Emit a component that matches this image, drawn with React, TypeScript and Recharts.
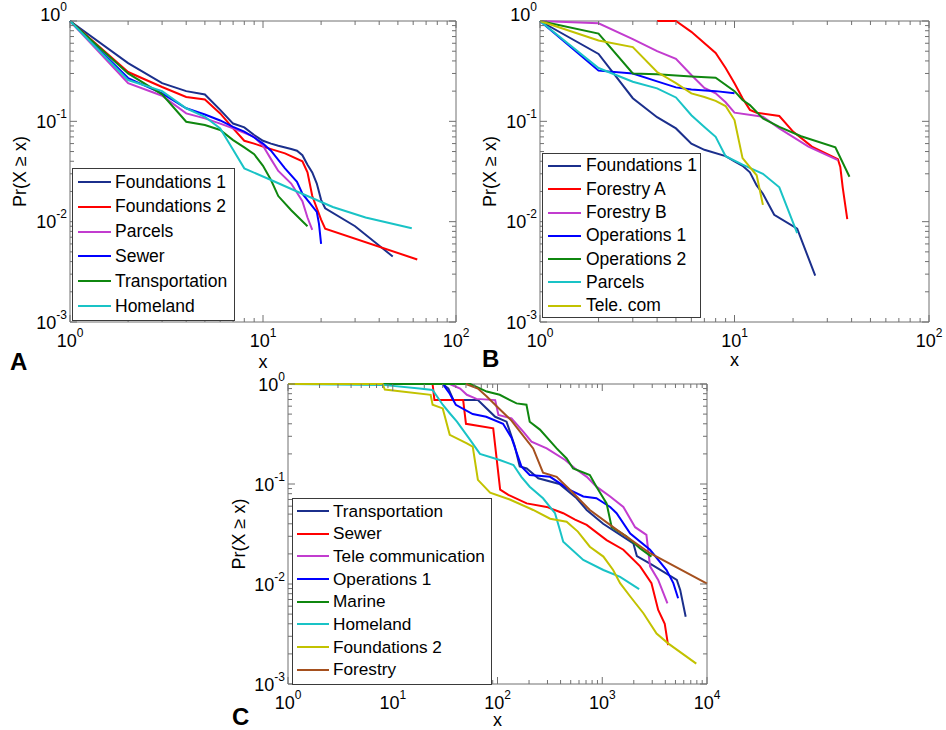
import React from "react";
import { LineChart, Line, XAxis, YAxis, ReferenceArea, Legend } from "recharts";

type Pt = [number, number];

// ---- panel A: complementary CDFs, x = 1..100 ----
const aFoundations1: Pt[] = [[1, 1], [2, 0.38], [3, 0.24], [4, 0.2], [5, 0.185], [6, 0.13], [7, 0.095], [8, 0.087], [9, 0.073], [10, 0.064], [11, 0.06], [12, 0.057], [14, 0.053], [15, 0.051], [16, 0.046], [17, 0.037], [18, 0.031], [19, 0.024], [20, 0.0165], [21, 0.0136], [30, 0.009], [47, 0.0045]];
const aFoundations2: Pt[] = [[1, 1], [2, 0.31], [3, 0.22], [4, 0.175], [5, 0.165], [6, 0.12], [7, 0.085], [8, 0.064], [9, 0.06], [10, 0.056], [13, 0.048], [16, 0.04], [17, 0.031], [18, 0.018], [20, 0.0105], [21, 0.0085], [63, 0.0042]];
const aParcels: Pt[] = [[1, 1], [2, 0.24], [3, 0.18], [4, 0.12], [5, 0.107], [6, 0.095], [7, 0.085], [8, 0.077], [9, 0.07], [10, 0.057], [11, 0.042], [12, 0.032], [14, 0.024], [16, 0.016], [17, 0.011], [18, 0.0083]];
const aSewer: Pt[] = [[1, 1], [2, 0.27], [3, 0.19], [4, 0.135], [5, 0.117], [6, 0.102], [7, 0.088], [8, 0.079], [9, 0.069], [10, 0.06], [11, 0.051], [13, 0.034], [15, 0.025], [16, 0.019], [19, 0.0125], [19.5, 0.0095], [20, 0.006]];
const aTransportation: Pt[] = [[1, 1], [2, 0.3], [3, 0.186], [4, 0.099], [5, 0.092], [6, 0.082], [7, 0.065], [8, 0.055], [9, 0.047], [10, 0.036], [11, 0.026], [12, 0.018], [14, 0.013], [17, 0.009]];
const aHomeland: Pt[] = [[1, 1], [2, 0.258], [3, 0.2], [4, 0.135], [5, 0.111], [6, 0.085], [7, 0.052], [8, 0.034], [11, 0.026], [15, 0.02], [23, 0.014], [34, 0.011], [59, 0.0086]];

// ---- panel B ----
const bFoundations1: Pt[] = [[1, 1], [2, 0.47], [3, 0.17], [4, 0.11], [5, 0.085], [6, 0.06], [7, 0.052], [9, 0.045], [10, 0.04], [11, 0.036], [12, 0.031], [13, 0.023], [14, 0.019], [16, 0.0117], [21, 0.0085], [26, 0.0029]];
const bForestryA: Pt[] = [[4, 1], [5, 1], [6, 0.78], [8, 0.48], [9, 0.34], [10, 0.24], [11, 0.17], [12, 0.13], [13, 0.122], [17, 0.113], [20, 0.079], [25, 0.056], [34, 0.042], [35, 0.035], [36, 0.022], [38, 0.0106]];
const bForestryB: Pt[] = [[1, 1], [2, 0.95], [3, 0.66], [4, 0.5], [5, 0.42], [6, 0.29], [7, 0.215], [8, 0.19], [9, 0.155], [10, 0.122], [14, 0.111], [17, 0.085], [24, 0.056], [34, 0.041]];
const bOperations1: Pt[] = [[1, 1], [2, 0.32], [3, 0.3], [4, 0.25], [5, 0.218], [6, 0.208], [8, 0.2], [10, 0.19]];
const bOperations2: Pt[] = [[1, 1], [2, 0.75], [3, 0.3], [4, 0.295], [6, 0.28], [8, 0.272], [10, 0.2], [11, 0.163], [12, 0.145], [14, 0.107], [17, 0.088], [22, 0.071], [33, 0.055], [39, 0.028]];
const bParcels: Pt[] = [[1, 1], [2, 0.34], [3, 0.248], [4, 0.213], [5, 0.173], [6, 0.115], [7, 0.088], [8, 0.07], [9, 0.045], [11, 0.037], [14, 0.03], [17, 0.022], [21, 0.0077]];
const bTelecom: Pt[] = [[1, 1], [2, 0.64], [3, 0.55], [4, 0.31], [5, 0.24], [6, 0.19], [7, 0.175], [8, 0.16], [9, 0.142], [10, 0.103], [11, 0.043], [12, 0.035], [13, 0.029], [14, 0.0147]];

// ---- panel C: x = 1..10^4 ----
const cTransportation: Pt[] = [[1, 1], [30, 1], [34, 0.9], [38, 0.69], [65, 0.69], [95, 0.47], [122, 0.42], [146, 0.24], [163, 0.15], [190, 0.143], [245, 0.114], [390, 0.1], [570, 0.072], [710, 0.055], [1020, 0.04], [1980, 0.0255], [2140, 0.019], [2860, 0.016], [5150, 0.011], [5550, 0.0087], [6260, 0.0047]];
const cSewer: Pt[] = [[1, 1], [24, 1], [25, 0.69], [47, 0.69], [50, 0.4], [91, 0.36], [106, 0.088], [127, 0.078], [190, 0.064], [295, 0.059], [424, 0.051], [550, 0.044], [710, 0.039], [1100, 0.0275], [1590, 0.022], [2300, 0.015], [2950, 0.0102], [3420, 0.0055], [3950, 0.004], [4250, 0.00245]];
const cTelecom: Pt[] = [[1, 1], [35, 1], [44, 0.9], [51, 0.78], [63, 0.71], [95, 0.69], [102, 0.49], [136, 0.454], [176, 0.334], [211, 0.265], [295, 0.227], [443, 0.174], [550, 0.143], [712, 0.118], [880, 0.094], [1190, 0.075], [1590, 0.059], [2060, 0.037], [2640, 0.031], [2860, 0.015], [3420, 0.011], [4190, 0.0064]];
const cOperations1: Pt[] = [[1, 1], [30, 1], [35, 0.8], [40, 0.62], [58, 0.5], [78, 0.47], [113, 0.4], [136, 0.29], [169, 0.15], [203, 0.123], [318, 0.118], [494, 0.087], [659, 0.075], [880, 0.072], [1190, 0.059], [1370, 0.051], [1850, 0.032], [2860, 0.022], [4110, 0.0138], [4770, 0.0102], [5300, 0.0072]];
const cMarine: Pt[] = [[1, 1], [55, 1], [79, 0.84], [105, 0.78], [152, 0.64], [189, 0.62], [203, 0.42], [254, 0.35], [367, 0.227], [457, 0.18], [527, 0.143], [761, 0.123], [880, 0.094], [1100, 0.064], [1230, 0.037], [1700, 0.03], [2300, 0.0227], [2950, 0.0188]];
const cHomeland: Pt[] = [[1, 1], [8, 0.98], [18, 0.9], [24, 0.87], [30, 0.62], [35, 0.51], [41, 0.42], [55, 0.275], [68, 0.2], [105, 0.174], [142, 0.155], [169, 0.118], [203, 0.094], [272, 0.072], [354, 0.051], [393, 0.035], [424, 0.0265], [659, 0.0174], [1025, 0.0138], [1480, 0.0118], [2250, 0.0089]];
const cFoundations2: Pt[] = [[1, 1], [8, 1], [8.4, 0.88], [23, 0.78], [24, 0.62], [30, 0.57], [35, 0.31], [51, 0.255], [58, 0.236], [65, 0.11], [85, 0.082], [131, 0.07], [219, 0.055], [318, 0.045], [457, 0.042], [585, 0.0334], [761, 0.0236], [1025, 0.0188], [1270, 0.0138], [1480, 0.0102], [1850, 0.0075], [2470, 0.0051], [3300, 0.0032], [4250, 0.00255], [7900, 0.0016]];
const cForestry: Pt[] = [[50, 1], [65, 0.9], [79, 0.75], [105, 0.56], [136, 0.43], [169, 0.32], [219, 0.227], [272, 0.13], [367, 0.118], [494, 0.087], [761, 0.055], [1370, 0.035], [2860, 0.0203], [10000, 0.0101]];

// axis ticks
const Y_DOMAIN: [number, number] = [0.001, 1];
const yMajor = [0.001, 0.01, 0.1, 1];
const xMajorAB = [1, 10, 100];
const xMajorC = [1, 10, 100, 1000, 10000];

const minorTicks = (lo: number, hi: number): number[] => {
  const out: number[] = [];
  for (let e = lo; e < hi; e++) {
    for (let m = 2; m <= 9; m++) out.push(+(m * Math.pow(10, e)).toPrecision(6));
  }
  return out;
};

const FONT = '"Liberation Sans", Arial, Helvetica, sans-serif';
const FRAME = "#707070";

const NAVY = "#1b2f8c";
const RED = "#ff0000";
const MAGENTA = "#c23ccf";
const BLUE = "#0000ff";
const GREEN = "#0f870f";
const CYAN = "#19c3c6";
const OLIVE = "#c2c200";
const BROWN = "#a5501e";

interface Series {
  name: string;
  color: string;
  pts: Pt[];
}

const seriesA: Series[] = [
  { name: "Foundations 1", color: NAVY, pts: aFoundations1 },
  { name: "Foundations 2", color: RED, pts: aFoundations2 },
  { name: "Parcels", color: MAGENTA, pts: aParcels },
  { name: "Sewer", color: BLUE, pts: aSewer },
  { name: "Transportation", color: GREEN, pts: aTransportation },
  { name: "Homeland", color: CYAN, pts: aHomeland },
];

const seriesB: Series[] = [
  { name: "Foundations 1", color: NAVY, pts: bFoundations1 },
  { name: "Forestry A", color: RED, pts: bForestryA },
  { name: "Forestry B", color: MAGENTA, pts: bForestryB },
  { name: "Operations 1", color: BLUE, pts: bOperations1 },
  { name: "Operations 2", color: GREEN, pts: bOperations2 },
  { name: "Parcels", color: CYAN, pts: bParcels },
  { name: "Tele. com", color: OLIVE, pts: bTelecom },
];

const seriesC: Series[] = [
  { name: "Transportation", color: NAVY, pts: cTransportation },
  { name: "Sewer", color: RED, pts: cSewer },
  { name: "Tele communication", color: MAGENTA, pts: cTelecom },
  { name: "Operations 1", color: BLUE, pts: cOperations1 },
  { name: "Marine", color: GREEN, pts: cMarine },
  { name: "Homeland", color: CYAN, pts: cHomeland },
  { name: "Foundations 2", color: OLIVE, pts: cFoundations2 },
  { name: "Forestry", color: BROWN, pts: cForestry },
];

interface LegendCfg {
  left: number;
  top: number;
  width: number;
  height: number;
  rowH: number;
  padTop: number;
  lineX: number;
  lineLen: number;
  textX: number;
  fontSize: number;
}

interface PanelCfg {
  left: number;
  top: number;
  width: number;
  height: number;
  margin: { top: number; right: number; left: number; bottom: number };
  yAxisW: number;
  xAxisH: number;
  xDomain: [number, number];
  xMajor: number[];
  xMinor: number[];
  letter: string;
  letterX: number;
  letterY: number;
  xLabelDy: number;
  yLabelDx: number;
  topShift: number;
  legend: LegendCfg;
  series: Series[];
}

// plot boxes: A 70..456 x 21..322, B 540..929 x 21..322, C 288..707 x 384..684
const panels: PanelCfg[] = [
  {
    left: 0, top: 0, width: 470, height: 380,
    margin: { top: 21, right: 14, left: 10, bottom: 28 },
    yAxisW: 60, xAxisH: 30,
    xDomain: [1, 100], xMajor: xMajorAB, xMinor: minorTicks(0, 2),
    letter: "A", letterX: 10, letterY: 370, xLabelDy: 46, yLabelDx: 16, topShift: 6.5,
    legend: { left: 72, top: 168, width: 163, height: 153, rowH: 24.8, padTop: 0.6, lineX: 5, lineLen: 33, textX: 42, fontSize: 17.5 },
    series: seriesA,
  },
  {
    left: 470, top: 0, width: 476, height: 380,
    margin: { top: 21, right: 17, left: 10, bottom: 28 },
    yAxisW: 60, xAxisH: 30,
    xDomain: [1, 100], xMajor: xMajorAB, xMinor: minorTicks(0, 2),
    letter: "B", letterX: 12, letterY: 367, xLabelDy: 44, yLabelDx: 16, topShift: 6.5,
    legend: { left: 72, top: 153, width: 159, height: 165, rowH: 23.3, padTop: 0.35, lineX: 5, lineLen: 33, textX: 43, fontSize: 17.5 },
    series: seriesB,
  },
  {
    left: 230, top: 345, width: 500, height: 385,
    margin: { top: 39, right: 23, left: 8, bottom: 16 },
    yAxisW: 50, xAxisH: 30,
    xDomain: [1, 10000], xMajor: xMajorC, xMinor: minorTicks(0, 4),
    letter: "C", letterX: 2, letterY: 380, xLabelDy: 42, yLabelDx: 7, topShift: 0,
    legend: { left: 62, top: 153, width: 200, height: 187, rowH: 22.7, padTop: 0.65, lineX: 4, lineLen: 32, textX: 40, fontSize: 17.2 },
    series: seriesC,
  },
];

const isMajor = (v: number) => {
  const l = Math.log10(v);
  return Math.abs(l - Math.round(l)) < 1e-6;
};

const PowLabel = ({ exp }: { exp: number }) => (
  <>
    10
    <tspan dy={-10} fontSize={12}>
      {exp}
    </tspan>
  </>
);

const XTick = (props: any) => {
  const { x, y, payload, ph } = props;
  const v = payload.value as number;
  const major = isMajor(v);
  const len = major ? 7 : 4;
  return (
    <g>
      <line x1={x} x2={x} y1={y} y2={y - len} stroke={FRAME} strokeWidth={1} />
      <line x1={x} x2={x} y1={y - ph} y2={y - ph + len} stroke={FRAME} strokeWidth={1} />
      {major && (
        <text x={x} y={y + 25} textAnchor="middle" fontFamily={FONT} fontSize={18} fill="#000">
          <PowLabel exp={Math.round(Math.log10(v))} />
        </text>
      )}
    </g>
  );
};

const YTick = (props: any) => {
  const { x, y, payload, pw, topShift } = props;
  const v = payload.value as number;
  const major = isMajor(v);
  const len = major ? 7 : 4;
  const exp = Math.round(Math.log10(v));
  return (
    <g>
      <line x1={x} x2={x + len} y1={y} y2={y} stroke={FRAME} strokeWidth={1} />
      <line x1={x + pw} x2={x + pw - len} y1={y} y2={y} stroke={FRAME} strokeWidth={1} />
      {major && (
        <text x={x - 3} y={y + 6.5 - (exp === 0 ? topShift : 0)} textAnchor="end" fontFamily={FONT} fontSize={18} fill="#000">
          <PowLabel exp={exp} />
        </text>
      )}
    </g>
  );
};

const LegendBox = ({ lg, series }: { lg: LegendCfg; series: Series[] }) => (
  <div
    style={{
      boxSizing: "border-box",
      width: lg.width,
      height: lg.height,
      border: "1px solid #3a3a3a",
      background: "#fff",
      paddingTop: lg.padTop,
      fontFamily: FONT,
      fontSize: lg.fontSize,
      color: "#000",
    }}
  >
    {series.map((s) => (
      <div key={s.name} style={{ position: "relative", height: lg.rowH }}>
        <div
          style={{
            position: "absolute",
            left: lg.lineX,
            width: lg.lineLen,
            top: lg.rowH / 2 - 1,
            height: 2,
            background: s.color,
          }}
        />
        <span
          style={{
            position: "absolute",
            left: lg.textX,
            top: 0,
            lineHeight: `${lg.rowH}px`,
            whiteSpace: "nowrap",
          }}
        >
          {s.name}
        </span>
      </div>
    ))}
  </div>
);

function Panel({ cfg }: { cfg: PanelCfg }) {
  const ph = cfg.height - cfg.margin.top - cfg.margin.bottom - cfg.xAxisH;
  const pw = cfg.width - cfg.margin.left - cfg.margin.right - cfg.yAxisW;
  const plotLeft = cfg.margin.left + cfg.yAxisW;
  const plotBottom = cfg.margin.top + ph;
  const lg = cfg.legend;

  return (
    <div style={{ position: "absolute", left: cfg.left, top: cfg.top }}>
      <LineChart width={cfg.width} height={cfg.height} margin={cfg.margin}>
        <ReferenceArea
          x1={cfg.xDomain[0]}
          x2={cfg.xDomain[1]}
          y1={Y_DOMAIN[0]}
          y2={Y_DOMAIN[1]}
          fill="none"
          fillOpacity={0}
          stroke={FRAME}
          strokeWidth={1}
          ifOverflow="visible"
        />
        <XAxis
          dataKey="x"
          type="number"
          scale="log"
          domain={cfg.xDomain}
          ticks={[...cfg.xMajor, ...cfg.xMinor]}
          interval={0}
          height={cfg.xAxisH}
          axisLine={false}
          tickLine={false}
          tickSize={0}
          tickMargin={0}
          tick={(p: any) => <XTick {...p} ph={ph} />}
          label={() => (
            <g>
              <text x={plotLeft + pw / 2} y={plotBottom + cfg.xLabelDy} textAnchor="middle" fontFamily={FONT} fontSize={18} fill="#000">
                x
              </text>
              <text x={cfg.letterX} y={cfg.letterY} fontFamily={FONT} fontSize={24} fontWeight="bold" fill="#000">
                {cfg.letter}
              </text>
            </g>
          )}
        />
        <YAxis
          type="number"
          scale="log"
          domain={Y_DOMAIN}
          ticks={[...yMajor, ...minorTicks(-3, 0)]}
          interval={0}
          width={cfg.yAxisW}
          axisLine={false}
          tickLine={false}
          tickSize={0}
          tickMargin={0}
          tick={(p: any) => <YTick {...p} pw={pw} topShift={cfg.topShift} />}
          label={() => {
            const cx = cfg.margin.left + cfg.yLabelDx;
            const cy = cfg.margin.top + ph / 2;
            return (
              <text
                x={cx}
                y={cy}
                transform={`rotate(-90, ${cx}, ${cy})`}
                textAnchor="middle"
                fontFamily={FONT}
                fontSize={18}
                fill="#000"
              >
                Pr(X ≥ x)
              </text>
            );
          }}
        />
        {cfg.series.map((s) => (
          <Line
            key={s.name}
            name={s.name}
            data={s.pts.map(([x, y]) => ({ x, y }))}
            dataKey="y"
            type="linear"
            stroke={s.color}
            strokeWidth={2}
            dot={false}
            activeDot={false}
            isAnimationActive={false}
          />
        ))}
        <Legend
          layout="vertical"
          align="center"
          verticalAlign="middle"
          wrapperStyle={{ left: lg.left, top: lg.top, width: lg.width, height: lg.height }}
          content={() => <LegendBox lg={lg} series={cfg.series} />}
        />
      </LineChart>
    </div>
  );
}

export default function App() {
  return (
    <div
      style={{
        position: "absolute",
        left: 0,
        top: 0,
        width: 946,
        height: 730,
        background: "#fff",
        overflow: "hidden",
      }}
    >
      {panels.map((p) => (
        <Panel key={p.letter} cfg={p} />
      ))}
    </div>
  );
}
